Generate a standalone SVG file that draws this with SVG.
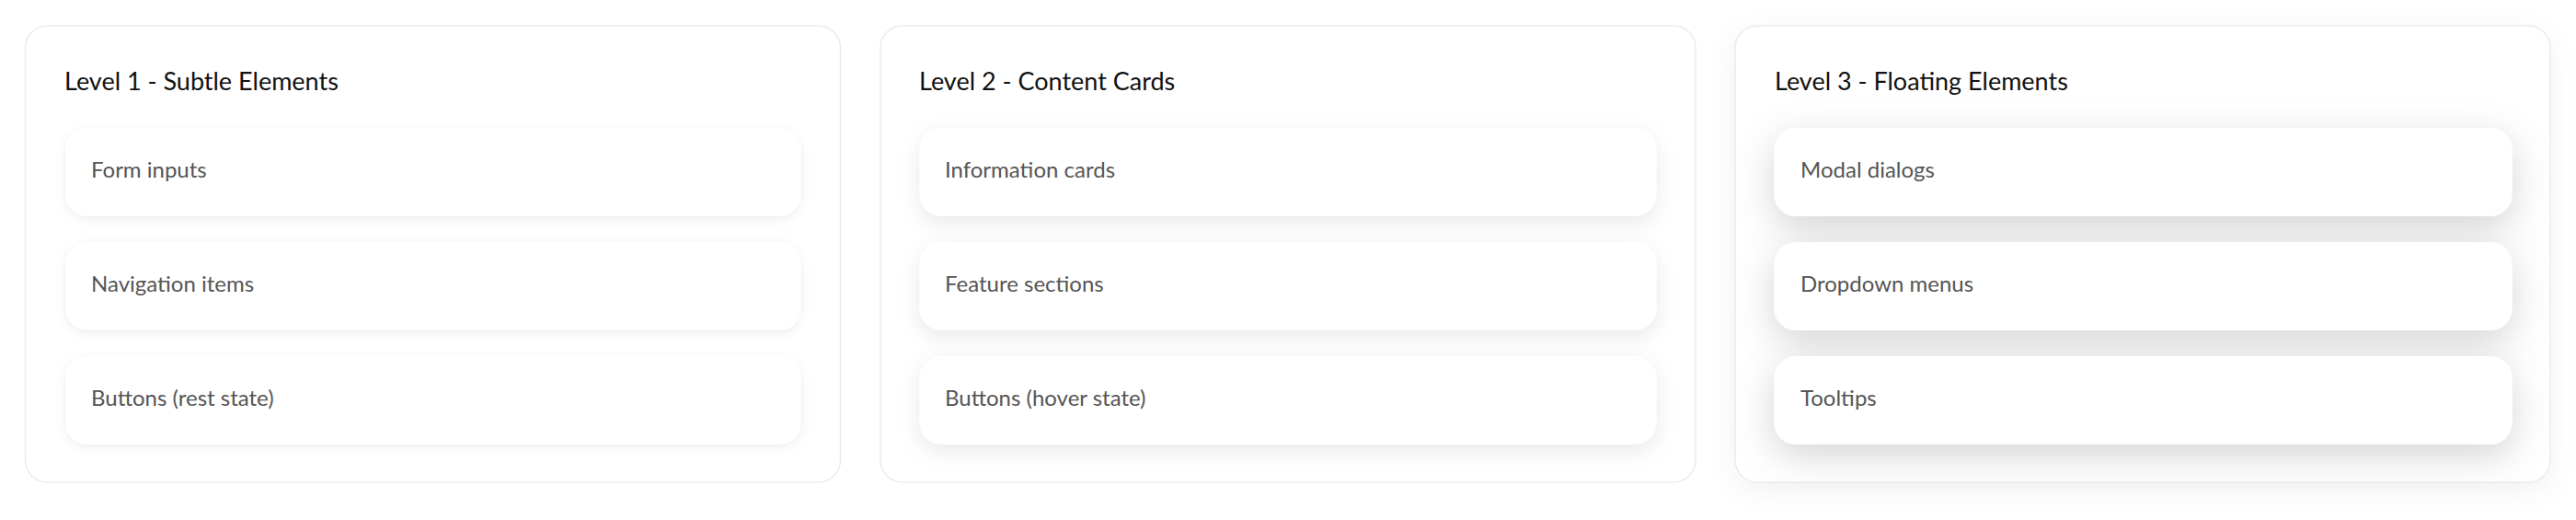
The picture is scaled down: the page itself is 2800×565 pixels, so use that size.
<svg xmlns="http://www.w3.org/2000/svg" width="2800" height="565" viewBox="0 0 2800 565">
  <defs>
    <filter id="sh1" x="-10%" y="-40%" width="120%" height="190%">
      <feDropShadow dx="0" dy="1" stdDeviation="2" flood-color="#000" flood-opacity="0.04"/>
      <feDropShadow dx="0" dy="3" stdDeviation="6" flood-color="#000" flood-opacity="0.06"/>
    </filter>
    <filter id="sh2" x="-10%" y="-40%" width="120%" height="200%">
      <feDropShadow dx="0" dy="7" stdDeviation="11" flood-color="#000" flood-opacity="0.09"/>
    </filter>
    <filter id="sh3" x="-10%" y="-60%" width="120%" height="240%">
      <feDropShadow dx="0" dy="12" stdDeviation="20" flood-color="#000" flood-opacity="0.17"/>
    </filter>
    <filter id="shp" x="-10%" y="-10%" width="120%" height="130%">
      <feDropShadow dx="0" dy="8" stdDeviation="14" flood-color="#000" flood-opacity="0.05"/>
    </filter>
  </defs>
  <style>
    .panel { fill: #ffffff; stroke: #ebebeb; stroke-width: 1.5; }
    .card { fill: #ffffff; }
    .title { font-family: Lato, "Liberation Sans", sans-serif; font-size: 27px; fill: #111111; }
    .label { font-family: Lato, "Liberation Sans", sans-serif; font-size: 24px; fill: #555555; }
  </style>
  <rect width="2800" height="565" fill="#ffffff"/>

  <g id="panel-level1">
    <rect class="panel" x="27.5" y="28" width="886" height="496" rx="24"/>
    <text class="title" x="70" y="98">Level 1 - Subtle Elements</text>
    <g id="l1-form-inputs">
      <rect class="card" x="71" y="139" width="800" height="96" rx="24" filter="url(#sh1)"/>
      <text class="label" x="99" y="193">Form inputs</text>
    </g>
    <g id="l1-navigation-items">
      <rect class="card" x="71" y="263" width="800" height="96" rx="24" filter="url(#sh1)"/>
      <text class="label" x="99" y="317">Navigation items</text>
    </g>
    <g id="l1-buttons-rest">
      <rect class="card" x="71" y="387" width="800" height="96" rx="24" filter="url(#sh1)"/>
      <text class="label" x="99" y="441">Buttons (rest state)</text>
    </g>
  </g>

  <g id="panel-level2">
    <rect class="panel" x="957" y="28" width="886" height="496" rx="24"/>
    <text class="title" x="999" y="98">Level 2 - Content Cards</text>
    <g id="l2-information-cards">
      <rect class="card" x="999.5" y="139" width="801" height="96" rx="24" filter="url(#sh2)"/>
      <text class="label" x="1027" y="193">Information cards</text>
    </g>
    <g id="l2-feature-sections">
      <rect class="card" x="999.5" y="263" width="801" height="96" rx="24" filter="url(#sh2)"/>
      <text class="label" x="1027" y="317">Feature sections</text>
    </g>
    <g id="l2-buttons-hover">
      <rect class="card" x="999.5" y="387" width="801" height="96" rx="24" filter="url(#sh2)"/>
      <text class="label" x="1027" y="441">Buttons (hover state)</text>
    </g>
  </g>

  <g id="panel-level3">
    <rect class="panel" x="1886" y="28" width="886" height="496" rx="24" filter="url(#shp)"/>
    <text class="title" x="1929" y="98">Level 3 - Floating Elements</text>
    <g id="l3-modal-dialogs">
      <rect class="card" x="1928.5" y="139" width="802" height="96" rx="24" filter="url(#sh3)"/>
      <text class="label" x="1957" y="193">Modal dialogs</text>
    </g>
    <g id="l3-dropdown-menus">
      <rect class="card" x="1928.5" y="263" width="802" height="96" rx="24" filter="url(#sh3)"/>
      <text class="label" x="1957" y="317">Dropdown menus</text>
    </g>
    <g id="l3-tooltips">
      <rect class="card" x="1928.5" y="387" width="802" height="96" rx="24" filter="url(#sh3)"/>
      <text class="label" x="1957" y="441">Tooltips</text>
    </g>
  </g>

  <g id="connectors"/>
</svg>
